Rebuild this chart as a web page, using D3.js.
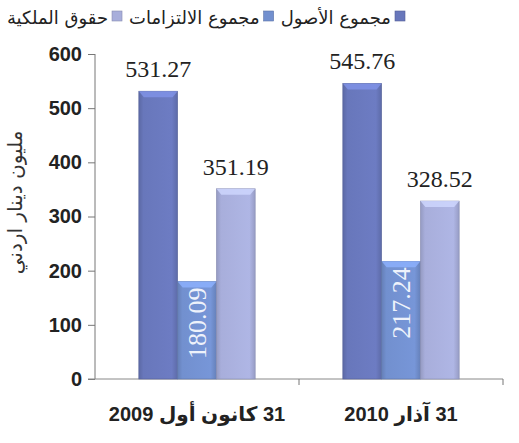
<!DOCTYPE html>
<html>
<head>
<meta charset="utf-8">
<script src="https://cdn.jsdelivr.net/npm/d3@7"></script>
<style>
  body { margin: 0; background: #fff; }
  svg { display: block; }
</style>
</head>
<body>
<div class="chart"></div>
<script>
// chart data
var categories = ["31 كانون أول 2009", "31 آذار 2010"];
var seriesNames = ["مجموع الأصول", "مجموع الالتزامات", "حقوق الملكية"];
var assets = [531.27, 545.76];
var liabilities = [180.09, 217.24];
var equity = [351.19, 328.52];
var yTicks = [0, 100, 200, 300, 400, 500, 600];
var yTitle = "مليون دينار اردني";
var seriesColors = ["#6877bb", "#7290cf", "#a8aedb"];

var svgWidth = 519;
var svgHeight = 443;
var margin = { top: 54, right: 16, bottom: 64, left: 95 };
var width = svgWidth - margin.left - margin.right;
var height = svgHeight - margin.top - margin.bottom;

var svg = d3.select(".chart")
  .append("svg")
  .attr("width", svgWidth)
  .attr("height", svgHeight);

var chartGroup = svg.append("g")
  .attr("transform", `translate(${margin.left}, ${margin.top})`);

var data = categories.map(function(c, i) {
  return { category: c, values: [assets[i], liabilities[i], equity[i]] };
});

// scales
var x0 = d3.scaleBand()
  .domain(categories)
  .range([0, width]);

var x1 = d3.scaleBand()
  .domain(d3.range(seriesNames.length))
  .range([0, x0.bandwidth()])
  .paddingOuter(1.13);

var yScale = d3.scaleLinear()
  .domain([0, 600])
  .range([height, 0]);

// gradients for the bevelled bars
var defs = svg.append("defs");
seriesColors.forEach(function(c, i) {
  var g = defs.append("linearGradient")
    .attr("id", "grad" + i)
    .attr("x1", "0").attr("x2", "1").attr("y1", "0").attr("y2", "0");
  g.append("stop").attr("offset", "0").attr("stop-color", d3.color(c).darker(0.35));
  g.append("stop").attr("offset", "0.12").attr("stop-color", c);
  g.append("stop").attr("offset", "0.85").attr("stop-color", d3.color(c).brighter(0.12));
  g.append("stop").attr("offset", "1").attr("stop-color", d3.color(c).darker(0.3));
});

// y axis
var leftAxis = d3.axisLeft(yScale).tickValues(yTicks).tickSize(7).tickPadding(6);
var yAxisG = chartGroup.append("g").call(leftAxis);
yAxisG.select(".domain").attr("stroke", "#777").attr("d", `M0,0V${height}`);
yAxisG.selectAll(".tick line").attr("stroke", "#777");
yAxisG.selectAll(".tick text")
  .attr("fill", "#222")
  .style("font-family", "Liberation Sans, Arial, sans-serif")
  .style("font-weight", "bold")
  .style("font-size", "20px");

// x axis
var bottomAxis = d3.axisBottom(x0).tickSize(0).tickPadding(28);
var xAxisG = chartGroup.append("g")
  .attr("transform", `translate(0, ${height})`)
  .call(bottomAxis);
xAxisG.select(".domain").attr("stroke", "#888").attr("d", `M-7,0H${width}`);
xAxisG.selectAll(".tick text")
  .attr("fill", "#222")
  .attr("direction", "rtl")
  .style("font-family", "Liberation Sans, DejaVu Sans, sans-serif")
  .style("font-weight", "bold")
  .style("font-size", "20px");
// category boundary ticks
xAxisG.selectAll(".sep")
  .data(categories)
  .enter()
  .append("line")
  .attr("x1", d => x0(d) + x0.bandwidth())
  .attr("x2", d => x0(d) + x0.bandwidth())
  .attr("y1", 0)
  .attr("y2", 6)
  .attr("stroke", "#777");

// bars
var groups = chartGroup.selectAll(".cat")
  .data(data)
  .enter()
  .append("g")
  .attr("transform", d => `translate(${x0(d.category)}, 0)`);

var bars = groups.selectAll(".bar")
  .data(d => d.values.map((v, i) => ({ v: v, i: i })))
  .enter()
  .append("g");

bars.append("rect")
  .attr("x", d => x1(d.i))
  .attr("y", d => yScale(d.v))
  .attr("width", x1.bandwidth())
  .attr("height", d => height - yScale(d.v))
  .attr("fill", d => `url(#grad${d.i})`)
  .attr("stroke", d => d3.color(seriesColors[d.i]).darker(0.6))
  .attr("stroke-width", 0.6);

// top bevel
bars.append("path")
  .attr("d", function(d) {
    var l = x1(d.i), r = l + x1.bandwidth(), t = yScale(d.v);
    return `M${l},${t}H${r}L${r - 5},${t + 6}H${l + 5}Z`;
  })
  .attr("fill", d => d3.color(seriesColors[d.i]).brighter(0.6))
  .attr("opacity", 0.8);

// value labels
bars.filter(d => d.i !== 1)
  .append("text")
  .attr("x", d => x1(d.i) + x1.bandwidth() / 2)
  .attr("y", d => yScale(d.v) - 14)
  .attr("text-anchor", "middle")
  .attr("fill", "#222")
  .style("font-family", "Liberation Serif, Times New Roman, serif")
  .style("font-size", "24px")
  .text(d => d.v.toFixed(2));

bars.filter(d => d.i === 1)
  .append("text")
  .attr("transform", d => `translate(${x1(d.i) + x1.bandwidth() / 2 + 9}, ${yScale(d.v) + 6}) rotate(-90)`)
  .attr("text-anchor", "end")
  .attr("fill", "#eef2fb")
  .style("font-family", "Liberation Serif, Times New Roman, serif")
  .style("font-size", "26px")
  .text(d => d.v.toFixed(2));

// y axis title
svg.append("text")
  .attr("transform", `translate(22, ${margin.top + height / 2 - 14}) rotate(-90)`)
  .attr("text-anchor", "middle")
  .attr("fill", "#333")
  .style("font-family", "DejaVu Sans, sans-serif")
  .style("font-size", "20px")
  .text(yTitle);

// legend, laid out right to left
var legend = svg.append("g").attr("class", "legend");
var cursor = 405;
seriesNames.forEach(function(name, i) {
  legend.append("rect")
    .attr("x", cursor - 10)
    .attr("y", 11)
    .attr("width", 10)
    .attr("height", 10)
    .attr("fill", seriesColors[i])
    .attr("stroke", d3.color(seriesColors[i]).darker(0.6))
    .attr("stroke-width", 0.6);
  var t = legend.append("text")
    .attr("x", cursor - 14)
    .attr("y", 24)
    .attr("text-anchor", "end")
    .attr("fill", "#222")
    .style("font-family", "DejaVu Sans, sans-serif")
    .style("font-size", "18px")
    .text(name);
  cursor = cursor - 14 - t.node().getComputedTextLength() - 7;
});
</script>
</body>
</html>
